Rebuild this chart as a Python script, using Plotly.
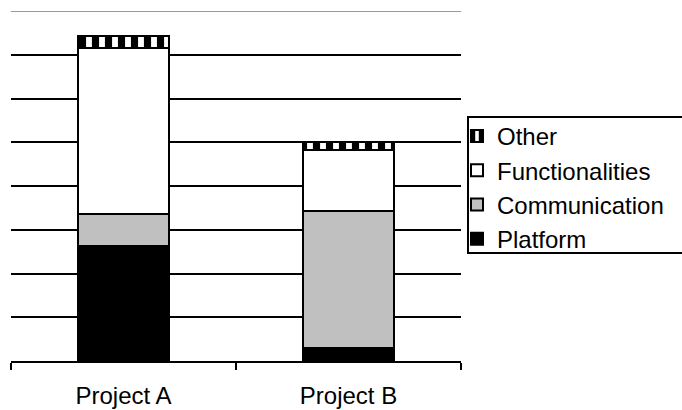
import plotly.graph_objects as go

categories = ["Project A", "Project B"]
platform = [26.3, 3.0]
communication = [7.3, 31.2]
functionalities = [37.9, 14.0]
other = [2.8, 1.9]
grid_vals = [10, 20, 30, 40, 50, 60, 70]

fig = go.Figure()
line = dict(color="black", width=2)
fig.add_trace(go.Bar(name="Platform", x=categories, y=platform,
                     marker=dict(color="black", line=line)))
fig.add_trace(go.Bar(name="Communication", x=categories, y=communication,
                     marker=dict(color="#c0c0c0", line=line)))
fig.add_trace(go.Bar(name="Functionalities", x=categories, y=functionalities,
                     marker=dict(color="white", line=line)))
fig.add_trace(go.Bar(name="Other", x=categories, y=other,
                     marker=dict(color="white", line=line,
                                 pattern=dict(shape="|", size=13, solidity=0.55,
                                              fgcolor="black", bgcolor="white",
                                              fgopacity=1, fillmode="replace"))))

# top border of plot area (light gray)
fig.add_shape(type="line", xref="paper", yref="y", x0=0, x1=1, y0=80, y1=80,
              line=dict(color="#999999", width=2))
# legend frame
fig.add_shape(type="rect", xref="paper", yref="paper",
              x0=(468 - 11) / 450, x1=(700 - 11) / 450,
              y0=(361 - 253) / 350, y1=(361 - 117) / 350,
              line=dict(color="black", width=2), fillcolor="rgba(0,0,0,0)",
              layer="above")

fig.update_layout(
    width=682, height=410,
    margin=dict(l=11, r=221, t=11, b=49, autoexpand=False),
    barmode="stack", bargap=0.595,
    plot_bgcolor="white", paper_bgcolor="white",
    font=dict(family="Liberation Sans, Arial", size=24, color="black"),
    legend=dict(x=(457 - 11) / 450, xanchor="left",
                y=(361 - 114) / 350, yanchor="top",
                traceorder="reversed", borderwidth=0,
                bgcolor="rgba(0,0,0,0)", font=dict(size=24),
                itemwidth=30, tracegroupgap=0),
    xaxis=dict(showline=True, linecolor="black", linewidth=2,
               ticks="outside", tickson="boundaries", ticklen=7,
               tickcolor="black", tickwidth=2, showgrid=False,
               automargin=False, ticklabelstandoff=12,
               tickfont=dict(size=24)),
    yaxis=dict(range=[0, 80], tickvals=grid_vals, showticklabels=False,
               showgrid=True, gridcolor="black", gridwidth=2,
               zeroline=False, showline=False, ticks="", automargin=False),
)

fig.write_html("out.html", config={"displayModeBar": False},
               post_script="document.body.style.margin='0';document.body.style.padding='0';")
